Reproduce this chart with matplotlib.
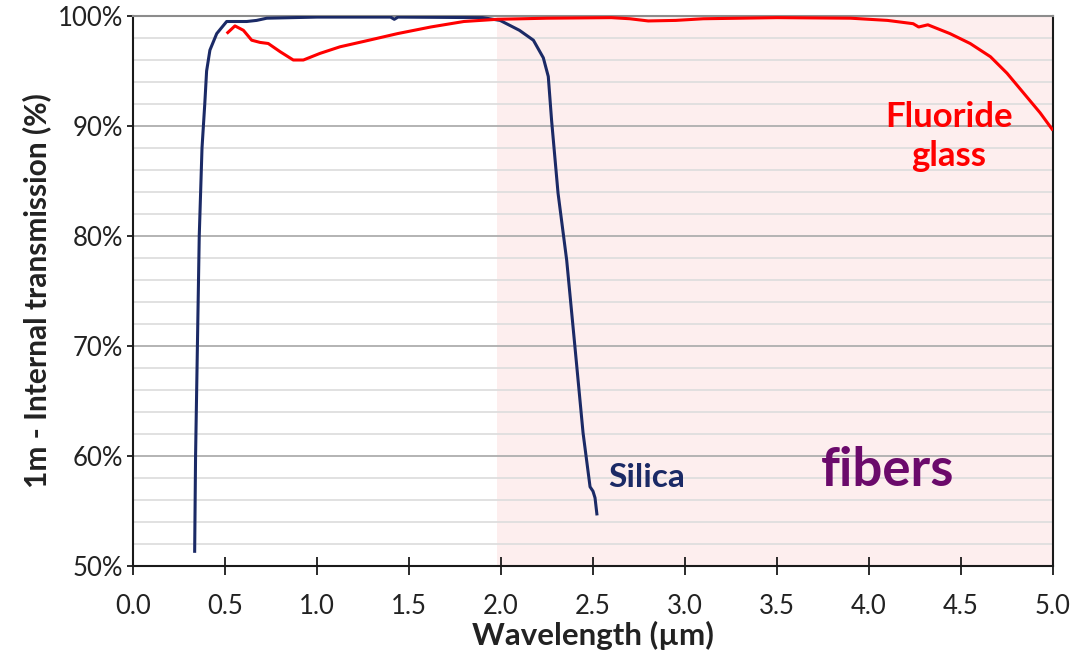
import matplotlib
matplotlib.use("Agg")
import matplotlib.pyplot as plt
from matplotlib.ticker import MultipleLocator, FuncFormatter

plt.rcParams['font.family'] = ['Lato', 'DejaVu Sans']

# Silica fiber: wavelength (um), transmission (%)
silica_wl = [0.335, 0.340, 0.350, 0.360, 0.375, 0.390, 0.400, 0.418, 0.455, 0.509,
             0.618, 0.672, 0.727, 1.000, 1.400, 1.420, 1.440, 1.900, 1.995, 2.100,
             2.176, 2.230, 2.257, 2.275, 2.310, 2.357, 2.402, 2.446, 2.484, 2.500,
             2.511, 2.522]
silica_tr = [51.2, 60.0, 70.0, 80.0, 88.0, 92.0, 95.0, 96.9, 98.4, 99.5,
             99.5, 99.6, 99.8, 99.9, 99.9, 99.7, 99.9, 99.85, 99.6, 98.7,
             97.8, 96.2, 94.5, 90.5, 83.9, 77.8, 69.9, 62.1, 57.2, 56.8,
             56.2, 54.6]

# Fluoride glass fiber
fluor_wl = [0.509, 0.554, 0.600, 0.645, 0.690, 0.735, 0.800, 0.871, 0.926, 1.016,
            1.125, 1.257, 1.438, 1.618, 1.798, 1.980, 2.250, 2.600, 2.700, 2.800,
            2.950, 3.100, 3.500, 3.900, 4.100, 4.240, 4.270, 4.320, 4.440, 4.550,
            4.660, 4.750, 4.840, 4.930, 5.000]
fluor_tr = [98.4, 99.1, 98.7, 97.8, 97.6, 97.5, 96.75, 96.0, 96.0, 96.6,
            97.2, 97.7, 98.4, 99.0, 99.5, 99.7, 99.8, 99.85, 99.75, 99.55,
            99.6, 99.75, 99.85, 99.8, 99.6, 99.3, 99.0, 99.2, 98.4, 97.5,
            96.3, 94.8, 93.0, 91.2, 89.6]

shade_range = [1.98, 5.0]
x_ticks = [0.0, 0.5, 1.0, 1.5, 2.0, 2.5, 3.0, 3.5, 4.0, 4.5, 5.0]
y_ticks = [50, 60, 70, 80, 90, 100]

fig = plt.figure(figsize=(10.77, 6.53), dpi=100)
ax = fig.add_axes([0.1235, 0.1332, 0.8542, 0.8423])

ax.axvspan(shade_range[0], shade_range[1], color='#fdeeee', zorder=0, lw=0)

ax.set_xlim(0, 5)
ax.set_ylim(50, 100)
ax.set_xticks(x_ticks)
ax.set_yticks(y_ticks)
ax.yaxis.set_minor_locator(MultipleLocator(2))
ax.xaxis.set_major_formatter(FuncFormatter(lambda v, p: f"{v:.1f}"))
ax.yaxis.set_major_formatter(FuncFormatter(lambda v, p: f"{int(v)}%"))

ax.grid(which='major', axis='y', color='#b3b3b3', lw=1.4, zorder=1)
ax.grid(which='minor', axis='y', color='#dcdcdc', lw=1.2, zorder=1)
ax.set_axisbelow(True)

ax.plot(silica_wl, silica_tr, color='#1b2a66', lw=2.2, zorder=3, solid_capstyle='butt')
ax.plot(fluor_wl, fluor_tr, color='#ff0000', lw=2.2, zorder=4, solid_capstyle='butt')

for s in ['left', 'bottom', 'right']:
    ax.spines[s].set_color('#1a1a1a')
    ax.spines[s].set_linewidth(1.5)
ax.spines['top'].set_color('#8c8c8c')
ax.spines['top'].set_linewidth(1.5)

ax.tick_params(axis='x', which='major', direction='inout', length=13, width=1.3,
               color='#1a1a1a', labelsize=18.5, pad=14, labelcolor='#222222')
ax.tick_params(axis='y', which='major', direction='out', length=4, width=1.3,
               color='#1a1a1a', labelsize=18.5, pad=3, labelcolor='#222222')
ax.tick_params(axis='y', which='minor', length=0)

ax.set_xlabel('Wavelength (µm)', fontsize=22.5, fontweight='bold', color='#222222', labelpad=1)
ax.set_ylabel('1m - Internal transmission (%)', fontsize=21.5, fontweight='bold',
              color='#222222', labelpad=5)

ax.text(4.435, 89.9, 'Fluoride', color='#ff0000', fontsize=25, fontweight='bold',
        ha='center', va='baseline')
ax.text(4.435, 86.4, 'glass', color='#ff0000', fontsize=25, fontweight='bold',
        ha='center', va='baseline')
ax.text(2.793, 57.2, 'Silica', color='#1b2a66', fontsize=24, fontweight='bold',
        ha='center', va='baseline')
ax.text(4.10, 57.3, 'fibers', color='#6b0a6b', fontsize=38, fontweight='bold',
        ha='center', va='baseline')

fig.savefig('out.png', dpi=100)
